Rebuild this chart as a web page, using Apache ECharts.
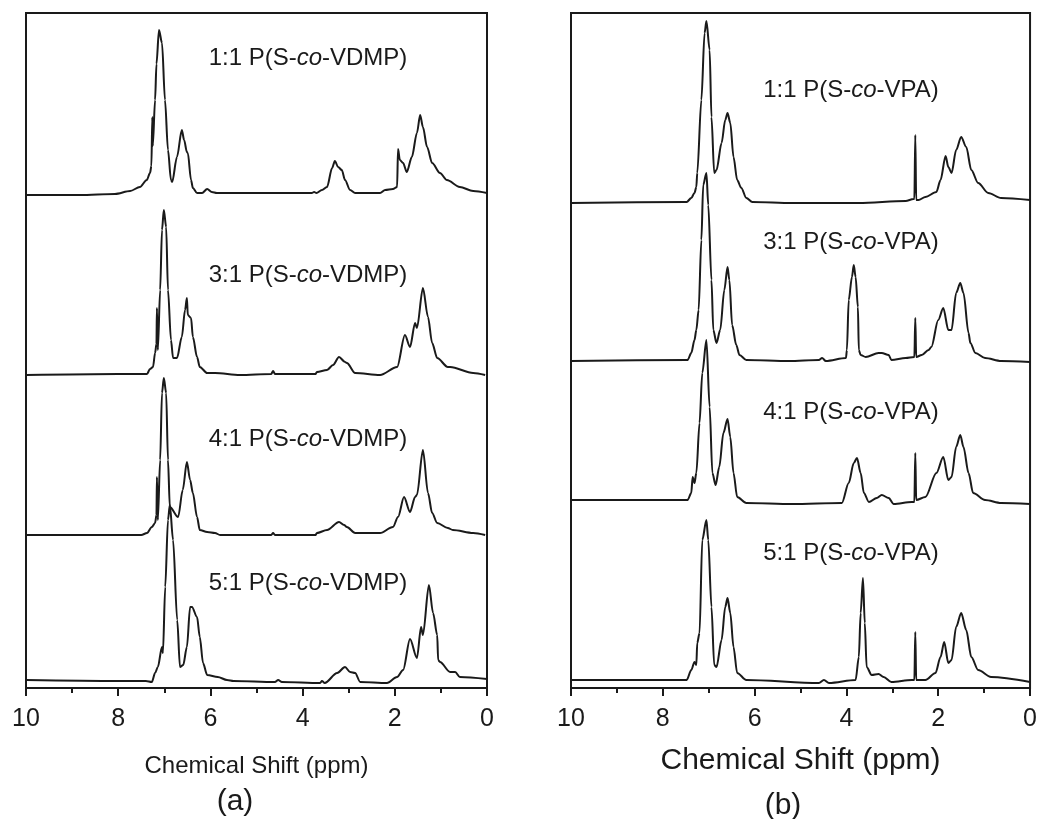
<!DOCTYPE html>
<html>
<head>
<meta charset="utf-8">
<script src="https://cdn.jsdelivr.net/npm/echarts@6/dist/echarts.min.js"></script>
<style>
  html, body { margin: 0; padding: 0; background: #fff; }
  #main { width: 1040px; height: 819px; }
</style>
</head>
<body>
<div id="main"></div>
<script>
// x ticks (ppm), shared by both panels
var ppmTicks = [10, 8, 6, 4, 2, 0];

// (a) P(S-co-VDMP) spectra, [ppm, intensity]
var vdmp11 = [[10,-1],[8.83,-1],[8.07,0],[7.74,3],[7.53,7],[7.38,14],[7.31,21],[7.28,28],[7.26,77],[7.25,48],[7.2,94],[7.17,130],[7.115,164],[7.05,151],[6.985,94],[6.92,44],[6.855,14],[6.83,12],[6.725,37],[6.62,64],[6.57,54],[6.51,42],[6.49,41],[6.42,14],[6.38,6],[6.29,1],[6.18,1],[6.07,5],[5.97,2],[5.86,1],[3.8,1],[3.75,2],[3.7,1],[3.58,4],[3.47,7],[3.36,26],[3.3,33],[3.23,27],[3.15,24],[3.08,14],[2.97,4],[2.86,1],[2.32,1],[2.21,4],[2.04,5],[1.95,7],[1.93,45],[1.89,34],[1.82,31],[1.74,22],[1.63,37],[1.52,61],[1.45,79],[1.39,67],[1.3,47],[1.19,31],[1.02,21],[0.87,14],[0.59,7],[0.3,3],[0,1]];
var vdmp31 = [[10,-1],[8,0],[7.5,0],[7.375,0],[7.31,5],[7.245,7],[7.2,21],[7.17,30],[7.16,66],[7.14,24],[7.09,84],[7.05,144],[7.01,164],[6.96,147],[6.92,84],[6.855,34],[6.81,16],[6.725,16],[6.62,37],[6.55,64],[6.51,76],[6.49,59],[6.42,56],[6.38,37],[6.29,17],[6.23,7],[6.07,1],[5.9,1],[5.36,-1],[4.68,0],[4.64,3],[4.6,0],[3.72,0],[3.69,2],[3.47,4],[3.34,9],[3.21,17],[3.08,12],[3.04,11],[2.86,1],[2.32,-1],[1.95,7],[1.78,39],[1.67,27],[1.56,51],[1.52,46],[1.39,86],[1.28,57],[1.19,31],[1.08,16],[0.85,7],[0.8,7],[0.3,1],[0.04,-1]];
var vdmp41 = [[10,0],[8,0],[7.5,0],[7.375,2],[7.27,8],[7.2,12],[7.17,20],[7.16,58],[7.14,15],[7.09,75],[7.05,142],[7.01,157],[6.96,142],[6.92,75],[6.88,28],[6.7,18],[6.6,45],[6.51,73],[6.44,55],[6.38,42],[6.29,18],[6.23,5],[6.07,3],[5.9,2],[5.79,0],[4.68,0],[4.64,2],[4.6,0],[3.72,0],[3.69,2],[3.47,5],[3.21,13],[3.1,10],[3.04,8],[2.86,2],[2.32,2],[2.04,8],[1.93,18],[1.8,38],[1.67,23],[1.56,38],[1.52,40],[1.39,85],[1.28,42],[1.19,22],[1.08,12],[0.85,7],[0.74,5],[0.3,2],[0.04,0]];
var vdmp51 = [[10,1],[8,0],[7.4,0],[7.27,-1],[7.2,8],[7.14,14],[7.05,34],[7.03,28],[6.98,94],[6.92,161],[6.88,176],[6.81,141],[6.72,61],[6.66,14],[6.59,16],[6.51,34],[6.44,74],[6.4,74],[6.29,64],[6.23,44],[6.16,18],[6.07,6],[5.84,4],[5.64,1],[5.5,0],[4.6,-1],[4.53,1],[4.45,-1],[3.62,-2],[3.58,0],[3.52,-2],[3.25,8],[3.08,14],[2.97,9],[2.86,8],[2.75,-1],[2.17,-2],[1.95,4],[1.82,11],[1.67,42],[1.52,23],[1.43,54],[1.39,46],[1.26,96],[1.17,68],[1.08,46],[1.06,21],[1.02,19],[0.8,9],[0.69,9],[0.59,4],[0,2]];

// (b) P(S-co-VPA) spectra
var vpa11 = [[10,0],[7.48,1],[7.38,5],[7.31,10],[7.27,16],[7.25,30],[7.16,103],[7.09,170],[7.05,182],[6.98,153],[6.94,86],[6.88,30],[6.83,33],[6.72,60],[6.64,83],[6.59,90],[6.53,80],[6.46,46],[6.38,23],[6.29,15],[6.18,5],[6.05,1],[5.18,0],[3.73,0],[2.71,2],[2.54,4],[2.52,4],[2.5,68],[2.48,3],[2.43,3],[2.28,6],[2.04,11],[1.95,23],[1.84,47],[1.78,36],[1.71,30],[1.61,53],[1.5,66],[1.39,56],[1.28,33],[1.13,20],[0.91,10],[0.63,5],[0,3]];
var vpa31 = [[10,0],[7.46,1],[7.38,8],[7.31,21],[7.27,31],[7.22,51],[7.16,121],[7.12,176],[7.05,188],[7.01,156],[6.94,81],[6.9,31],[6.83,18],[6.75,31],[6.66,71],[6.59,94],[6.55,81],[6.49,36],[6.4,16],[6.33,6],[6.18,1],[5.25,0],[4.6,1],[4.53,3],[4.45,0],[4.01,3],[3.99,11],[3.95,61],[3.88,84],[3.84,96],[3.8,84],[3.75,54],[3.73,11],[3.69,6],[3.58,4],[3.3,8],[3.23,8],[3.08,6],[3.02,1],[2.71,3],[2.52,4],[2.5,43],[2.48,4],[2.36,6],[2.21,11],[2.15,14],[2.0,41],[1.89,53],[1.78,31],[1.71,31],[1.61,68],[1.52,78],[1.45,68],[1.34,28],[1.3,18],[1.19,8],[0.98,3],[0.63,0],[0,-1]];
var vpa41 = [[10,2],[7.46,2],[7.38,9],[7.35,25],[7.31,19],[7.27,29],[7.2,79],[7.14,129],[7.05,162],[6.98,95],[6.92,29],[6.85,17],[6.77,35],[6.68,69],[6.59,83],[6.53,65],[6.46,29],[6.38,5],[6.18,-1],[5.18,-2],[4.1,-1],[3.95,19],[3.84,39],[3.77,44],[3.69,29],[3.62,9],[3.51,0],[3.34,4],[3.23,7],[3.08,4],[2.97,-2],[2.58,0],[2.52,0],[2.5,49],[2.48,2],[2.28,5],[2.04,29],[1.89,45],[1.78,22],[1.71,25],[1.61,55],[1.52,67],[1.45,55],[1.34,29],[1.24,9],[0.98,2],[0.63,-1],[0,-2]];
var vpa51 = [[10,1],[7.48,1],[7.38,11],[7.31,19],[7.27,16],[7.25,38],[7.2,48],[7.14,141],[7.05,161],[7.01,141],[6.94,74],[6.88,16],[6.83,14],[6.72,41],[6.64,74],[6.59,83],[6.53,68],[6.46,34],[6.38,8],[6.18,1],[4.6,-2],[4.49,1],[4.38,-2],[3.8,1],[3.73,24],[3.69,68],[3.64,103],[3.6,58],[3.56,14],[3.45,6],[3.3,7],[3.19,4],[3.02,-1],[2.58,1],[2.52,1],[2.5,49],[2.48,1],[2.28,1],[2.06,8],[1.95,24],[1.87,39],[1.78,18],[1.71,21],[1.61,54],[1.5,68],[1.39,51],[1.28,24],[1.13,11],[0.85,4],[0,-1]];

// vertical offsets of the stacked traces (top to bottom)
var offsetA = [494, 314, 153, 7];
var offsetB = [485, 327, 186, 7];
var namesA = ['1:1', '3:1', '4:1', '5:1'];
var namesB = ['1:1', '3:1', '4:1', '5:1'];

var myChart = echarts.init(document.getElementById('main'));
var FONT = '"Liberation Sans", Arial, Helvetica, sans-serif';
var INK = '#1a1a1a';

function shift(arr, off) {
    return arr.map(function (p) { return [p[0], p[1] + off]; });
}

function xAxisFor(idx, nameSize, nameGap) {
    return {
        type: 'value', gridIndex: idx, inverse: true,
        min: 0, max: 10, interval: 2,
        name: 'Chemical Shift (ppm)', nameLocation: 'middle', nameGap: nameGap,
        nameTextStyle: { color: INK, fontSize: nameSize, fontFamily: FONT },
        axisLine: { lineStyle: { color: INK, width: 2 } },
        axisTick: { show: true, length: 8, lineStyle: { color: INK, width: 2 } },
        minorTick: { show: true, splitNumber: 2, length: 5, lineStyle: { color: INK, width: 2 } },
        axisLabel: {
            color: INK, fontSize: 25, fontFamily: FONT, margin: 19,
            showMinLabel: true, showMaxLabel: true,
            formatter: function (v) { return ppmTicks.indexOf(v) >= 0 ? String(v) : ''; }
        },
        splitLine: { show: false }
    };
}

function yAxisFor(idx) {
    return {
        type: 'value', gridIndex: idx, min: 0, max: 675,
        axisLine: { show: false }, axisTick: { show: false },
        axisLabel: { show: false }, splitLine: { show: false }
    };
}

function lineSeries(data, idx) {
    return {
        type: 'line', xAxisIndex: idx, yAxisIndex: idx,
        data: data, showSymbol: false, smooth: 0.3, smoothMonotone: 'x',
        lineStyle: { color: INK, width: 2 }, silent: true, animation: false
    };
}

function label(x, y, ratio, tail) {
    return {
        type: 'text', x: x, y: y,
        style: {
            text: '{n|' + ratio + ' P(S-}{i|co}{n|-' + tail + ')}',
            align: 'center', verticalAlign: 'middle',
            rich: {
                n: { fontSize: 24, fontFamily: FONT, fill: INK, color: INK },
                i: { fontSize: 24, fontFamily: FONT, fontStyle: 'italic', fill: INK, color: INK }
            }
        }
    };
}

var tracesA = [vdmp11, vdmp31, vdmp41, vdmp51];
var tracesB = [vpa11, vpa31, vpa41, vpa51];
var series = [];
tracesA.forEach(function (t, i) { series.push(lineSeries(shift(t, offsetA[i]), 0)); });
tracesB.forEach(function (t, i) { series.push(lineSeries(shift(t, offsetB[i]), 1)); });

var labelYA = [58, 275, 439, 583];
var labelYB = [90, 242, 412, 553];
var graphics = [];
namesA.forEach(function (n, i) { graphics.push(label(308, labelYA[i], n, 'VDMP')); });
namesB.forEach(function (n, i) { graphics.push(label(851, labelYB[i], n, 'VPA')); });
graphics.push({ type: 'text', x: 235, y: 802, style: { text: '(a)', fontSize: 30, fontFamily: FONT, fill: INK, align: 'center', verticalAlign: 'middle' } });
graphics.push({ type: 'text', x: 783, y: 806, style: { text: '(b)', fontSize: 30, fontFamily: FONT, fill: INK, align: 'center', verticalAlign: 'middle' } });

var option = {
    backgroundColor: '#fff',
    animation: false,
    grid: [
        { left: 26, top: 13, width: 461, height: 675, show: true, borderColor: INK, borderWidth: 2, backgroundColor: 'transparent' },
        { left: 571, top: 13, width: 461, height: 675, show: true, borderColor: INK, borderWidth: 2, backgroundColor: 'transparent' }
    ],
    xAxis: [xAxisFor(0, 24, 66), xAxisFor(1, 30, 58)],
    yAxis: [yAxisFor(0), yAxisFor(1)],
    series: series,
    graphic: graphics
};
myChart.setOption(option);
window.addEventListener('resize', function () {
    myChart.resize();
});
</script>
</body>
</html>
